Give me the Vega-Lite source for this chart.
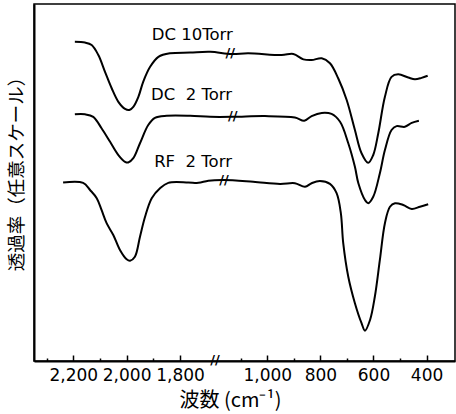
{
  "$schema": "https://vega.github.io/schema/vega-lite/v6.json",
  "width": 421,
  "height": 357,
  "autosize": {"type": "none"},
  "padding": {"left": 34, "top": 4, "right": 1, "bottom": 53},
  "background": "white",
  "config": {
    "view": {"stroke": "black", "strokeWidth": 1.5},
    "font": "DejaVu Sans"
  },
  "datasets": {
    "spectra": [
      {"sample": "DC 10Torr", "wavenumber": 2194, "T": 89.4},
      {"sample": "DC 10Torr", "wavenumber": 2156, "T": 89.2},
      {"sample": "DC 10Torr", "wavenumber": 2131, "T": 88.5},
      {"sample": "DC 10Torr", "wavenumber": 2106, "T": 85.7},
      {"sample": "DC 10Torr", "wavenumber": 2081, "T": 81.0},
      {"sample": "DC 10Torr", "wavenumber": 2056, "T": 76.4},
      {"sample": "DC 10Torr", "wavenumber": 2031, "T": 72.6},
      {"sample": "DC 10Torr", "wavenumber": 2006, "T": 70.6},
      {"sample": "DC 10Torr", "wavenumber": 1990, "T": 70.3},
      {"sample": "DC 10Torr", "wavenumber": 1975, "T": 71.2},
      {"sample": "DC 10Torr", "wavenumber": 1956, "T": 74.0},
      {"sample": "DC 10Torr", "wavenumber": 1938, "T": 78.2},
      {"sample": "DC 10Torr", "wavenumber": 1912, "T": 82.4},
      {"sample": "DC 10Torr", "wavenumber": 1881, "T": 85.2},
      {"sample": "DC 10Torr", "wavenumber": 1837, "T": 86.2},
      {"sample": "DC 10Torr", "wavenumber": 1762, "T": 86.4},
      {"sample": "DC 10Torr", "wavenumber": 1687, "T": 86.6},
      {"sample": "DC 10Torr", "wavenumber": 1134, "T": 86.0},
      {"sample": "DC 10Torr", "wavenumber": 1072, "T": 86.2},
      {"sample": "DC 10Torr", "wavenumber": 946, "T": 85.7},
      {"sample": "DC 10Torr", "wavenumber": 902, "T": 86.0},
      {"sample": "DC 10Torr", "wavenumber": 864, "T": 84.5},
      {"sample": "DC 10Torr", "wavenumber": 833, "T": 84.3},
      {"sample": "DC 10Torr", "wavenumber": 795, "T": 84.8},
      {"sample": "DC 10Torr", "wavenumber": 764, "T": 83.4},
      {"sample": "DC 10Torr", "wavenumber": 733, "T": 79.2},
      {"sample": "DC 10Torr", "wavenumber": 701, "T": 73.1},
      {"sample": "DC 10Torr", "wavenumber": 670, "T": 64.7},
      {"sample": "DC 10Torr", "wavenumber": 645, "T": 58.2},
      {"sample": "DC 10Torr", "wavenumber": 620, "T": 55.5},
      {"sample": "DC 10Torr", "wavenumber": 601, "T": 57.7},
      {"sample": "DC 10Torr", "wavenumber": 582, "T": 63.8},
      {"sample": "DC 10Torr", "wavenumber": 557, "T": 74.0},
      {"sample": "DC 10Torr", "wavenumber": 532, "T": 79.6},
      {"sample": "DC 10Torr", "wavenumber": 507, "T": 80.3},
      {"sample": "DC 10Torr", "wavenumber": 469, "T": 79.4},
      {"sample": "DC 10Torr", "wavenumber": 444, "T": 78.9},
      {"sample": "DC 10Torr", "wavenumber": 419, "T": 79.3},
      {"sample": "DC 10Torr", "wavenumber": 396, "T": 79.9},

      {"sample": "DC 2Torr", "wavenumber": 2194, "T": 69.1},
      {"sample": "DC 2Torr", "wavenumber": 2156, "T": 69.1},
      {"sample": "DC 2Torr", "wavenumber": 2125, "T": 68.4},
      {"sample": "DC 2Torr", "wavenumber": 2094, "T": 65.2},
      {"sample": "DC 2Torr", "wavenumber": 2062, "T": 61.4},
      {"sample": "DC 2Torr", "wavenumber": 2031, "T": 57.7},
      {"sample": "DC 2Torr", "wavenumber": 2006, "T": 55.8},
      {"sample": "DC 2Torr", "wavenumber": 1994, "T": 55.6},
      {"sample": "DC 2Torr", "wavenumber": 1975, "T": 56.8},
      {"sample": "DC 2Torr", "wavenumber": 1950, "T": 61.0},
      {"sample": "DC 2Torr", "wavenumber": 1919, "T": 66.1},
      {"sample": "DC 2Torr", "wavenumber": 1894, "T": 68.1},
      {"sample": "DC 2Torr", "wavenumber": 1850, "T": 68.7},
      {"sample": "DC 2Torr", "wavenumber": 1762, "T": 68.7},
      {"sample": "DC 2Torr", "wavenumber": 1687, "T": 68.4},
      {"sample": "DC 2Torr", "wavenumber": 1128, "T": 68.4},
      {"sample": "DC 2Torr", "wavenumber": 1009, "T": 68.6},
      {"sample": "DC 2Torr", "wavenumber": 896, "T": 68.2},
      {"sample": "DC 2Torr", "wavenumber": 861, "T": 67.3},
      {"sample": "DC 2Torr", "wavenumber": 833, "T": 68.6},
      {"sample": "DC 2Torr", "wavenumber": 795, "T": 69.5},
      {"sample": "DC 2Torr", "wavenumber": 758, "T": 69.2},
      {"sample": "DC 2Torr", "wavenumber": 726, "T": 67.0},
      {"sample": "DC 2Torr", "wavenumber": 695, "T": 61.0},
      {"sample": "DC 2Torr", "wavenumber": 670, "T": 54.4},
      {"sample": "DC 2Torr", "wavenumber": 657, "T": 49.8},
      {"sample": "DC 2Torr", "wavenumber": 632, "T": 45.1},
      {"sample": "DC 2Torr", "wavenumber": 620, "T": 44.2},
      {"sample": "DC 2Torr", "wavenumber": 601, "T": 46.0},
      {"sample": "DC 2Torr", "wavenumber": 576, "T": 52.6},
      {"sample": "DC 2Torr", "wavenumber": 557, "T": 59.1},
      {"sample": "DC 2Torr", "wavenumber": 532, "T": 64.7},
      {"sample": "DC 2Torr", "wavenumber": 513, "T": 65.8},
      {"sample": "DC 2Torr", "wavenumber": 482, "T": 65.6},
      {"sample": "DC 2Torr", "wavenumber": 456, "T": 66.7},
      {"sample": "DC 2Torr", "wavenumber": 429, "T": 67.3},

      {"sample": "RF 2Torr", "wavenumber": 2238, "T": 50.0},
      {"sample": "RF 2Torr", "wavenumber": 2163, "T": 49.9},
      {"sample": "RF 2Torr", "wavenumber": 2137, "T": 47.9},
      {"sample": "RF 2Torr", "wavenumber": 2112, "T": 45.6},
      {"sample": "RF 2Torr", "wavenumber": 2094, "T": 42.3},
      {"sample": "RF 2Torr", "wavenumber": 2075, "T": 38.6},
      {"sample": "RF 2Torr", "wavenumber": 2050, "T": 35.3},
      {"sample": "RF 2Torr", "wavenumber": 2025, "T": 31.1},
      {"sample": "RF 2Torr", "wavenumber": 2000, "T": 28.5},
      {"sample": "RF 2Torr", "wavenumber": 1987, "T": 28.1},
      {"sample": "RF 2Torr", "wavenumber": 1969, "T": 29.2},
      {"sample": "RF 2Torr", "wavenumber": 1950, "T": 34.8},
      {"sample": "RF 2Torr", "wavenumber": 1931, "T": 40.4},
      {"sample": "RF 2Torr", "wavenumber": 1906, "T": 45.6},
      {"sample": "RF 2Torr", "wavenumber": 1875, "T": 48.4},
      {"sample": "RF 2Torr", "wavenumber": 1844, "T": 49.9},
      {"sample": "RF 2Torr", "wavenumber": 1769, "T": 50.0},
      {"sample": "RF 2Torr", "wavenumber": 1731, "T": 49.9},
      {"sample": "RF 2Torr", "wavenumber": 1694, "T": 50.5},
      {"sample": "RF 2Torr", "wavenumber": 1163, "T": 50.7},
      {"sample": "RF 2Torr", "wavenumber": 1053, "T": 50.2},
      {"sample": "RF 2Torr", "wavenumber": 952, "T": 49.6},
      {"sample": "RF 2Torr", "wavenumber": 896, "T": 49.8},
      {"sample": "RF 2Torr", "wavenumber": 858, "T": 48.8},
      {"sample": "RF 2Torr", "wavenumber": 833, "T": 49.8},
      {"sample": "RF 2Torr", "wavenumber": 802, "T": 50.4},
      {"sample": "RF 2Torr", "wavenumber": 764, "T": 49.6},
      {"sample": "RF 2Torr", "wavenumber": 739, "T": 47.0},
      {"sample": "RF 2Torr", "wavenumber": 723, "T": 41.4},
      {"sample": "RF 2Torr", "wavenumber": 714, "T": 33.0},
      {"sample": "RF 2Torr", "wavenumber": 695, "T": 23.6},
      {"sample": "RF 2Torr", "wavenumber": 670, "T": 16.2},
      {"sample": "RF 2Torr", "wavenumber": 645, "T": 10.6},
      {"sample": "RF 2Torr", "wavenumber": 632, "T": 8.5},
      {"sample": "RF 2Torr", "wavenumber": 613, "T": 11.5},
      {"sample": "RF 2Torr", "wavenumber": 595, "T": 18.0},
      {"sample": "RF 2Torr", "wavenumber": 576, "T": 28.3},
      {"sample": "RF 2Torr", "wavenumber": 557, "T": 38.6},
      {"sample": "RF 2Torr", "wavenumber": 538, "T": 43.2},
      {"sample": "RF 2Torr", "wavenumber": 519, "T": 44.2},
      {"sample": "RF 2Torr", "wavenumber": 488, "T": 43.7},
      {"sample": "RF 2Torr", "wavenumber": 456, "T": 42.6},
      {"sample": "RF 2Torr", "wavenumber": 425, "T": 43.2},
      {"sample": "RF 2Torr", "wavenumber": 394, "T": 43.9}
    ],
    "labels": [
      {"label": "DC 10Torr", "wavenumber": 1906, "T": 89.9},
      {"label": "DC\u00a0\u00a02 Torr", "wavenumber": 1909, "T": 73.1},
      {"label": "RF\u00a0\u00a02 Torr", "wavenumber": 1897, "T": 54.4}
    ],
    "breaks": [
      {"wavenumber": 1140, "T": 86.2},
      {"wavenumber": 1130, "T": 68.5},
      {"wavenumber": 1163, "T": 50.7},
      {"wavenumber": 1669, "T": 0.3}
    ]
  },
  "encoding": {
    "x": {
      "field": "wavenumber",
      "type": "quantitative",
      "scale": {
        "domain": [2347, 1669, 1197, 293],
        "range": [0, 181, 181, 421],
        "nice": false,
        "zero": false
      },
      "axis": {
        "values": [2300, 2200, 2100, 2000, 1900, 1800, 1100, 1000, 900, 800, 700, 600, 500, 400],
        "labelExpr": "datum.value % 200 === 0 ? format(datum.value, ',') : ''",
        "tickSize": {"condition": {"test": "datum.value % 200 === 0", "value": -6}, "value": -3},
        "tickColor": "black",
        "tickWidth": 1.5,
        "domainColor": "black",
        "domainWidth": 2,
        "grid": false,
        "labelFont": "DejaVu Sans",
        "labelFontSize": 17,
        "labelColor": "black",
        "labelPadding": 12,
        "labelOverlap": false,
        "labelFlush": false,
        "title": "波数 (cm⁻¹)",
        "titleFont": "Noto Sans CJK JP",
        "titleFontSize": 20,
        "titleFontWeight": "normal",
        "titleColor": "black",
        "titleX": 196,
        "titleY": 39,
        "titleBaseline": "middle"
      }
    },
    "y": {
      "field": "T",
      "type": "quantitative",
      "scale": {"domain": [0, 100], "nice": false, "zero": false},
      "axis": {
        "ticks": false,
        "labels": false,
        "grid": false,
        "domainColor": "black",
        "domainWidth": 2,
        "title": "透過率（任意スケール）",
        "titleFont": "Noto Sans CJK JP",
        "titleFontSize": 18.5,
        "titleFontWeight": "normal",
        "titleColor": "black",
        "titleAngle": -90,
        "titleX": -17.5,
        "titleY": 165,
        "titleAlign": "center",
        "titleBaseline": "middle"
      }
    }
  },
  "layer": [
    {
      "data": {"name": "spectra"},
      "mark": {"type": "line", "color": "black", "strokeWidth": 2, "interpolate": "catmull-rom"},
      "encoding": {"detail": {"field": "sample", "type": "nominal"}}
    },
    {
      "data": {"name": "labels"},
      "mark": {"type": "text", "align": "left", "baseline": "alphabetic", "font": "DejaVu Sans", "fontSize": 16.5, "color": "black"},
      "encoding": {"text": {"field": "label"}}
    },
    {
      "data": {"name": "breaks"},
      "mark": {"type": "text", "align": "center", "baseline": "middle", "font": "DejaVu Sans", "fontSize": 13, "fontWeight": "bold", "color": "black", "text": "//"},
      "encoding": {}
    }
  ]
}
